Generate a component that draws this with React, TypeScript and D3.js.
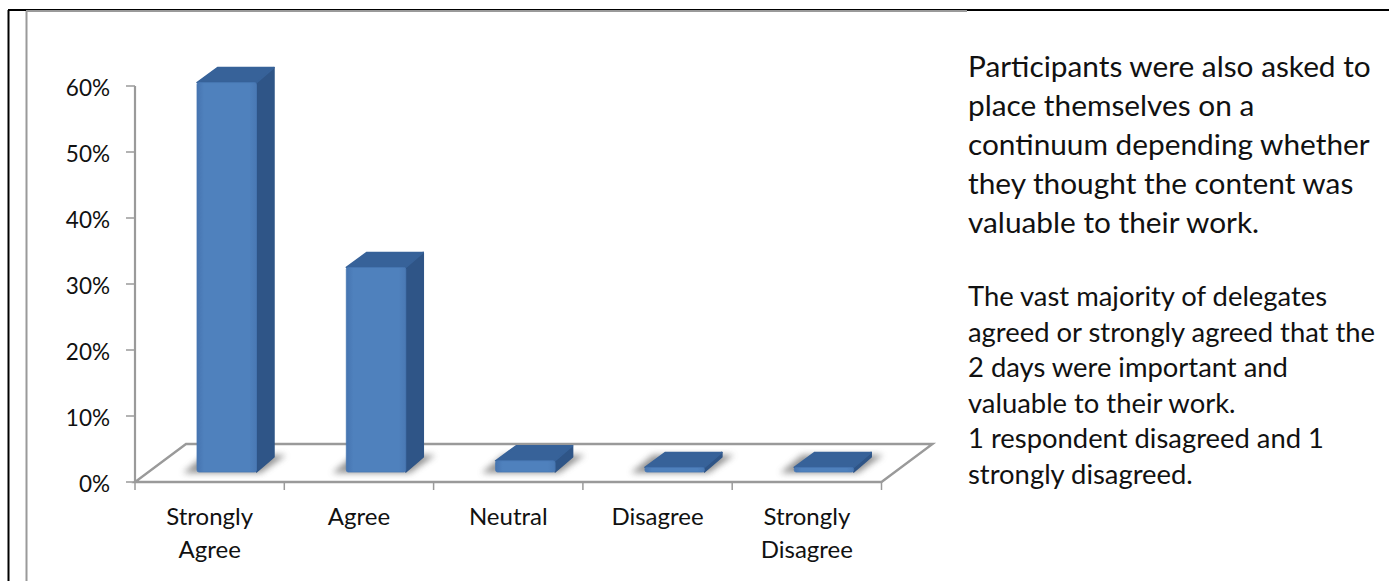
import React from "react";
import * as d3 from "d3";

const categories: string[][] = [["Strongly", "Agree"], ["Agree"], ["Neutral"], ["Disagree"], ["Strongly", "Disagree"]];
const values: number[] = [59, 31, 1.7, 0.7, 0.7];
const yTicks: number[] = [0, 10, 20, 30, 40, 50, 60];
const headLines: string[] = [
  "Participants were also asked to",
  "place themselves on a",
  "continuum depending whether",
  "they thought the content was",
  "valuable to their work.",
];
const bodyLines: string[] = [
  "The vast majority of delegates",
  "agreed or strongly agreed that the",
  "2 days were important and",
  "valuable to their work.",
  "1 respondent disagreed and 1",
  "strongly disagreed.",
];

const W = 1389, H = 581;
const FONT = "Lato, 'Open Sans', sans-serif";
const axisColor = "#9a9a9a";

const y = d3.scaleLinear().domain([0, 60]).range([482, 86]);
const x = d3.scaleBand<number>().domain(d3.range(5)).range([135, 881.5]);
const depthX = 51, depthY = -38;
const barW = 59.5, barDX = 17.5, barDY = -15;
const barBase = 472;

const poly = (pts: [number, number][]) => d3.line()(pts)! + "Z";

export default function App() {
  return (
    <svg width={W} height={H} style={{ position: "absolute", left: 0, top: 0, background: "#fff" }}>
      <defs>
        <linearGradient id="front" x1="0" x2="1" y1="0" y2="0">
          <stop offset="0" stopColor="#4674b0" />
          <stop offset="0.12" stopColor="#4f81bd" />
          <stop offset="0.88" stopColor="#4f81bd" />
          <stop offset="1" stopColor="#4a79b4" />
        </linearGradient>
        <filter id="blur" x="-30%" y="-80%" width="160%" height="260%">
          <feGaussianBlur stdDeviation="3" />
        </filter>
      </defs>

      <path d="M8.5 10V581M8 10H1389" stroke="#000" strokeWidth={2} fill="none" />
      <path d="M26.5 11V581M26 11H967" stroke={axisColor} strokeWidth={2} fill="none" />

      {/* floor */}
      <path
        d={poly([[x.range()[0], y(0)], [x.range()[1], y(0)], [x.range()[1] + depthX, y(0) + depthY], [x.range()[0] + depthX, y(0) + depthY]])}
        fill="#fff" stroke={axisColor} strokeWidth={2.4}
      />
      {/* value axis */}
      <line x1={135} x2={135} y1={y(60)} y2={y(0)} stroke={axisColor} strokeWidth={2.2} />
      {yTicks.map((t) => (
        <g key={t}>
          <line x1={126} x2={135} y1={y(t)} y2={y(t)} stroke={axisColor} strokeWidth={1.5} />
          <text x={110} y={y(t) + 9.5} textAnchor="end" fontFamily={FONT} fontSize={22.5} fill="#111">{t}%</text>
        </g>
      ))}
      {/* category ticks */}
      {d3.range(6).map((i) => {
        const tx = 135 + i * x.bandwidth();
        return <line key={i} x1={tx} x2={tx} y1={y(0)} y2={y(0) + 8} stroke={axisColor} strokeWidth={1.5} />;
      })}
      {categories.map((lines, i) => (
        <text key={i} textAnchor="middle" fontFamily={FONT} fontSize={24} fill="#111">
          {lines.map((l, j) => (
            <tspan key={j} x={x(i)! + x.bandwidth() / 2} y={525 + j * 33}>{l}</tspan>
          ))}
        </text>
      ))}

      {/* bars */}
      {values.map((v, i) => {
        const x0 = x(i)! + 62;
        const x1 = x0 + barW;
        const top = barBase - (y(0) - y(v));
        const shadow = poly([
          [x0 - 14, barBase + 1],
          [x1 + 4, barBase + 1],
          [x1 + barDX + 12, barBase - 17],
          [x0 + 8, barBase - 17],
        ]);
        return (
          <g key={i}>
            <path d={shadow} fill="#666" opacity={0.7} filter="url(#blur)" />
            <path d={poly([[x1, top], [x1 + barDX, top + barDY], [x1 + barDX, barBase + barDY], [x1, barBase]])} fill="#2f5587" stroke="#2f5587" strokeWidth={1.5} strokeLinejoin="round" />
            <path d={poly([[x0, top], [x1, top], [x1 + barDX, top + barDY], [x0 + barDX + 3, top + barDY]])} fill="#376299" stroke="#376299" strokeWidth={1.5} strokeLinejoin="round" />
            <rect x={x0} y={top} width={barW} height={barBase - top} rx={2} fill="url(#front)" stroke="#4676b2" strokeWidth={0.8} />
          </g>
        );
      })}

      {/* commentary */}
      {headLines.map((l, i) => (
        <text key={l} x={968} y={77 + i * 39} fontFamily={FONT} fontSize={29.8} fill="#111">{l}</text>
      ))}
      {bodyLines.map((l, i) => (
        <text key={l} x={968} y={306 + i * 35.5} fontFamily={FONT} fontSize={27.4} fill="#111">{l}</text>
      ))}
    </svg>
  );
}
